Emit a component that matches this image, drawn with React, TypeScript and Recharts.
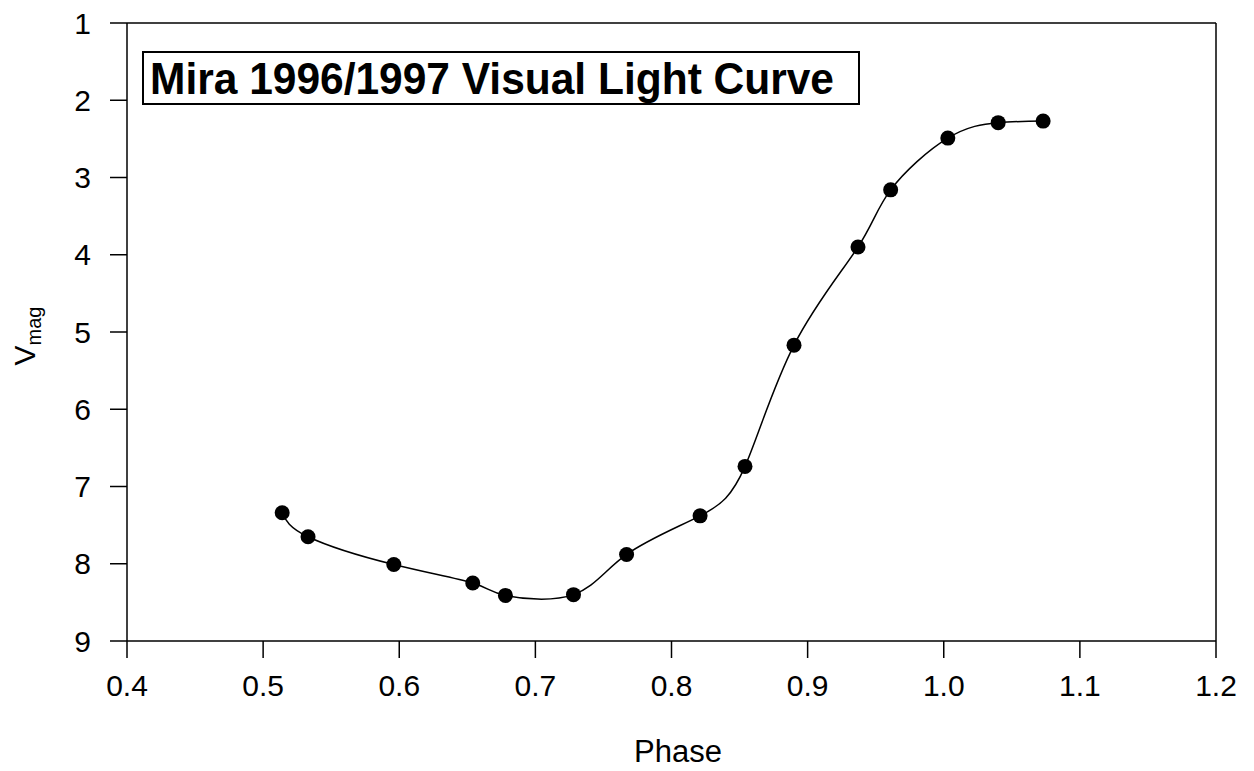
import React from "react";
import {
  Label,
  Line,
  LineChart,
  ReferenceLine,
  XAxis,
  YAxis,
} from "recharts";

const phases = [
  0.514, 0.533, 0.596, 0.654, 0.678, 0.728, 0.767, 0.821, 0.854, 0.89, 0.937,
  0.961, 1.003, 1.04, 1.073,
];
const magnitudes = [
  7.34, 7.65, 8.01, 8.25, 8.41, 8.4, 7.88, 7.38, 6.74, 5.17, 3.9, 3.16, 2.49,
  2.29, 2.27,
];
const phaseTicks = [0.4, 0.5, 0.6, 0.7, 0.8, 0.9, 1.0, 1.1, 1.2];
const magTicks = [1, 2, 3, 4, 5, 6, 7, 8, 9];
const title = "Mira 1996/1997 Visual Light Curve";

const data = phases.map((phase, i) => ({ phase, mag: magnitudes[i] }));

const FONT = '"Liberation Sans", Arial, Helvetica, sans-serif';
const W = 1240;
const H = 760;

export default function App() {
  return (
    <div style={{ position: "relative", width: W, height: H, fontFamily: FONT }}>
      <LineChart
        width={W}
        height={H}
        data={data}
        margin={{ top: 15, right: 32, bottom: 67, left: 59 }}
      >
        <XAxis
          type="number"
          dataKey="phase"
          domain={[0.4, 1.2]}
          ticks={phaseTicks}
          interval={0}
          tickFormatter={(v: number) => v.toFixed(1)}
          allowDataOverflow
          height={60}
          stroke="#000"
          strokeWidth={1.5}
          tickSize={17}
          tickMargin={17}
          tick={{ fill: "#000", fontSize: 30, fontFamily: FONT }}
        >
          <Label
            content={() => (
              <text
                x={670}
                y={754}
                textAnchor="middle"
                fontSize={31}
                fontFamily={FONT}
                fill="#000"
              >
                Phase
              </text>
            )}
          />
        </XAxis>
        <YAxis
          type="number"
          dataKey="mag"
          reversed
          domain={[1, 9]}
          ticks={magTicks}
          interval={0}
          allowDataOverflow
          width={60}
          stroke="#000"
          strokeWidth={1.5}
          tickSize={17}
          tickMargin={19}
          tick={{ fill: "#000", fontSize: 30, fontFamily: FONT }}
        >
          <Label
            content={() => (
              <text
                transform="rotate(-90, 27, 328)"
                x={27}
                y={328}
                textAnchor="middle"
                fontFamily={FONT}
                fill="#000"
              >
                <tspan fontSize={30}>V</tspan>
                <tspan fontSize={20} dy={6}>
                  mag
                </tspan>
              </text>
            )}
          />
        </YAxis>
        <ReferenceLine y={1} stroke="#000" strokeWidth={1.5} />
        <ReferenceLine x={1.2} stroke="#000" strokeWidth={1.5} />
        <Line
          type="natural"
          dataKey="mag"
          stroke="#000"
          strokeWidth={1.5}
          dot={{ r: 7.5, fill: "#000", stroke: "#000", strokeWidth: 0 }}
          isAnimationActive={false}
        />
      </LineChart>
      <svg
        width={W}
        height={H}
        style={{ position: "absolute", left: 0, top: 0, pointerEvents: "none" }}
      >
        <rect
          x={135}
          y={44}
          width={716}
          height={52}
          fill="#fff"
          stroke="#000"
          strokeWidth={2}
        />
        <text
          x={142}
          y={86}
          fontSize={44}
          fontWeight="bold"
          fontFamily={FONT}
          textLength={684}
          lengthAdjust="spacingAndGlyphs"
          fill="#000"
        >
          {title}
        </text>
      </svg>
    </div>
  );
}
